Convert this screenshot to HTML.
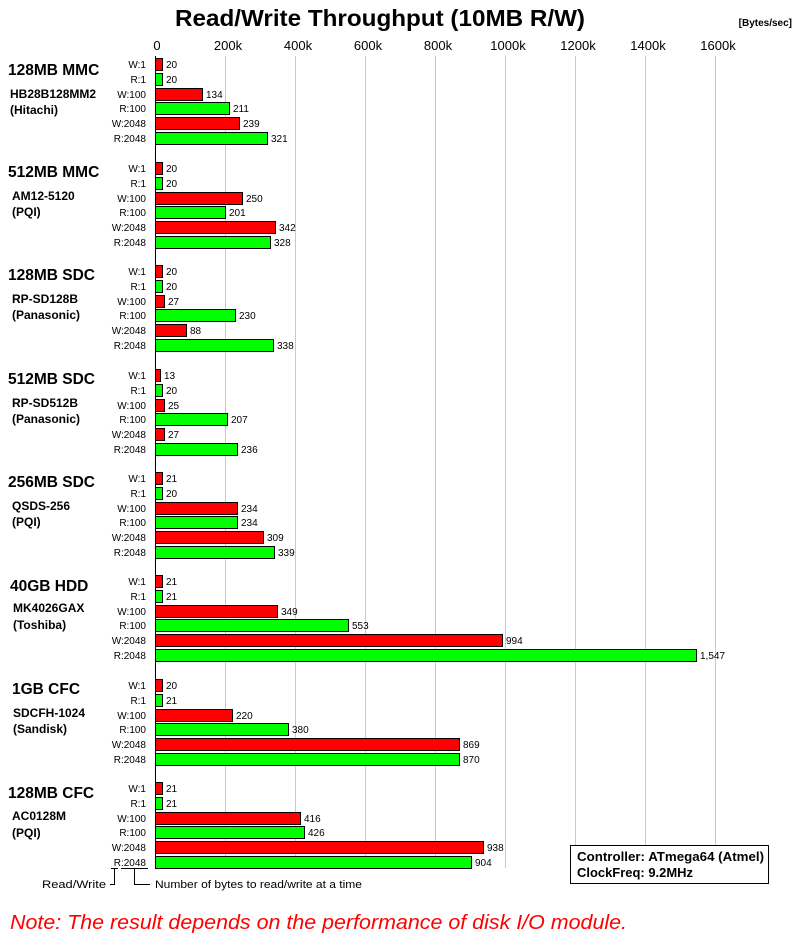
<!DOCTYPE html>
<html><head><meta charset="utf-8"><style>
body{margin:0;background:#fff;}
svg{display:block;font-family:"Liberation Sans",sans-serif;}
.gl{stroke:#c8c8c8;stroke-width:1}
.ax{font-size:13px;fill:#000}
.rl{font-size:10px;text-anchor:end;fill:#000}
.vl{font-size:10px;fill:#000}
.gt{font-size:15.5px;font-weight:bold}
.gs{font-size:12px;font-weight:bold}
.w{fill:#ff0000;stroke:#000;stroke-width:1}
.r{fill:#00ff00;stroke:#000;stroke-width:1}
</style></head><body>
<svg width="800" height="950" viewBox="0 0 800 950" xmlns="http://www.w3.org/2000/svg">
<text x="380" y="26" text-anchor="middle" font-size="23.5" font-weight="bold" textLength="410" lengthAdjust="spacingAndGlyphs">Read/Write Throughput (10MB R/W)</text>
<text x="792" y="26" text-anchor="end" font-size="10" font-weight="bold">[Bytes/sec]</text>
<g class="ax">
<text x="157" y="50" text-anchor="middle">0</text>
<text x="228" y="50" text-anchor="middle">200k</text>
<text x="298" y="50" text-anchor="middle">400k</text>
<text x="368" y="50" text-anchor="middle">600k</text>
<text x="438" y="50" text-anchor="middle">800k</text>
<text x="508" y="50" text-anchor="middle">1000k</text>
<text x="578" y="50" text-anchor="middle">1200k</text>
<text x="648" y="50" text-anchor="middle">1400k</text>
<text x="718" y="50" text-anchor="middle">1600k</text>
</g>
<g class="gl">
<line x1="225.5" y1="56" x2="225.5" y2="868"/><line x1="295.5" y1="56" x2="295.5" y2="868"/>
<line x1="365.5" y1="56" x2="365.5" y2="868"/><line x1="435.5" y1="56" x2="435.5" y2="868"/>
<line x1="505.5" y1="56" x2="505.5" y2="868"/><line x1="575.5" y1="56" x2="575.5" y2="868"/>
<line x1="645.5" y1="56" x2="645.5" y2="868"/><line x1="715.5" y1="56" x2="715.5" y2="868"/>
</g>

<g transform="translate(0,64)">
<text class="gt" x="8" y="11">128MB MMC</text>
<text class="gs" x="10" y="34">HB28B128MM2</text><text class="gs" x="10" y="50">(Hitachi)</text>
<text class="rl" x="146" y="4">W:1</text><text class="rl" x="146" y="19">R:1</text><text class="rl" x="146" y="34">W:100</text><text class="rl" x="146" y="48">R:100</text><text class="rl" x="146" y="63">W:2048</text><text class="rl" x="146" y="78">R:2048</text>
<rect class="w" x="155.5" y="-5.5" width="7" height="12"/><rect class="r" x="155.5" y="9.5" width="7" height="12"/><rect class="w" x="155.5" y="24.5" width="47" height="12"/><rect class="r" x="155.5" y="38.5" width="74" height="12"/><rect class="w" x="155.5" y="53.5" width="84" height="12"/><rect class="r" x="155.5" y="68.5" width="112" height="12"/>
<text class="vl" x="166" y="4">20</text><text class="vl" x="166" y="19">20</text><text class="vl" x="206" y="34">134</text><text class="vl" x="233" y="48">211</text><text class="vl" x="243" y="63">239</text><text class="vl" x="271" y="78">321</text>
</g>

<g transform="translate(0,168)">
<text class="gt" x="8" y="9">512MB MMC</text>
<text class="gs" x="12" y="32">AM12-5120</text><text class="gs" x="12" y="48">(PQI)</text>
<text class="rl" x="146" y="4">W:1</text><text class="rl" x="146" y="19">R:1</text><text class="rl" x="146" y="34">W:100</text><text class="rl" x="146" y="48">R:100</text><text class="rl" x="146" y="63">W:2048</text><text class="rl" x="146" y="78">R:2048</text>
<rect class="w" x="155.5" y="-5.5" width="7" height="12"/><rect class="r" x="155.5" y="9.5" width="7" height="12"/><rect class="w" x="155.5" y="24.5" width="87" height="12"/><rect class="r" x="155.5" y="38.5" width="70" height="12"/><rect class="w" x="155.5" y="53.5" width="120" height="12"/><rect class="r" x="155.5" y="68.5" width="115" height="12"/>
<text class="vl" x="166" y="4">20</text><text class="vl" x="166" y="19">20</text><text class="vl" x="246" y="34">250</text><text class="vl" x="229" y="48">201</text><text class="vl" x="279" y="63">342</text><text class="vl" x="274" y="78">328</text>
</g>

<g transform="translate(0,271)">
<text class="gt" x="8" y="9">128MB SDC</text>
<text class="gs" x="12" y="32">RP-SD128B</text><text class="gs" x="12" y="48">(Panasonic)</text>
<text class="rl" x="146" y="4">W:1</text><text class="rl" x="146" y="19">R:1</text><text class="rl" x="146" y="34">W:100</text><text class="rl" x="146" y="48">R:100</text><text class="rl" x="146" y="63">W:2048</text><text class="rl" x="146" y="78">R:2048</text>
<rect class="w" x="155.5" y="-5.5" width="7" height="12"/><rect class="r" x="155.5" y="9.5" width="7" height="12"/><rect class="w" x="155.5" y="24.5" width="9" height="12"/><rect class="r" x="155.5" y="38.5" width="80" height="12"/><rect class="w" x="155.5" y="53.5" width="31" height="12"/><rect class="r" x="155.5" y="68.5" width="118" height="12"/>
<text class="vl" x="166" y="4">20</text><text class="vl" x="166" y="19">20</text><text class="vl" x="168" y="34">27</text><text class="vl" x="239" y="48">230</text><text class="vl" x="190" y="63">88</text><text class="vl" x="277" y="78">338</text>
</g>

<g transform="translate(0,375)">
<text class="gt" x="8" y="9">512MB SDC</text>
<text class="gs" x="12" y="32">RP-SD512B</text><text class="gs" x="12" y="48">(Panasonic)</text>
<text class="rl" x="146" y="4">W:1</text><text class="rl" x="146" y="19">R:1</text><text class="rl" x="146" y="34">W:100</text><text class="rl" x="146" y="48">R:100</text><text class="rl" x="146" y="63">W:2048</text><text class="rl" x="146" y="78">R:2048</text>
<rect class="w" x="155.5" y="-5.5" width="5" height="12"/><rect class="r" x="155.5" y="9.5" width="7" height="12"/><rect class="w" x="155.5" y="24.5" width="9" height="12"/><rect class="r" x="155.5" y="38.5" width="72" height="12"/><rect class="w" x="155.5" y="53.5" width="9" height="12"/><rect class="r" x="155.5" y="68.5" width="82" height="12"/>
<text class="vl" x="164" y="4">13</text><text class="vl" x="166" y="19">20</text><text class="vl" x="168" y="34">25</text><text class="vl" x="231" y="48">207</text><text class="vl" x="168" y="63">27</text><text class="vl" x="241" y="78">236</text>
</g>

<g transform="translate(0,478)">
<text class="gt" x="8" y="9">256MB SDC</text>
<text class="gs" x="12" y="32">QSDS-256</text><text class="gs" x="12" y="48">(PQI)</text>
<text class="rl" x="146" y="4">W:1</text><text class="rl" x="146" y="19">R:1</text><text class="rl" x="146" y="34">W:100</text><text class="rl" x="146" y="48">R:100</text><text class="rl" x="146" y="63">W:2048</text><text class="rl" x="146" y="78">R:2048</text>
<rect class="w" x="155.5" y="-5.5" width="7" height="12"/><rect class="r" x="155.5" y="9.5" width="7" height="12"/><rect class="w" x="155.5" y="24.5" width="82" height="12"/><rect class="r" x="155.5" y="38.5" width="82" height="12"/><rect class="w" x="155.5" y="53.5" width="108" height="12"/><rect class="r" x="155.5" y="68.5" width="119" height="12"/>
<text class="vl" x="166" y="4">21</text><text class="vl" x="166" y="19">20</text><text class="vl" x="241" y="34">234</text><text class="vl" x="241" y="48">234</text><text class="vl" x="267" y="63">309</text><text class="vl" x="278" y="78">339</text>
</g>

<g transform="translate(0,581)">
<text class="gt" x="10" y="10">40GB HDD</text>
<text class="gs" x="13" y="31">MK4026GAX</text><text class="gs" x="13" y="48">(Toshiba)</text>
<text class="rl" x="146" y="4">W:1</text><text class="rl" x="146" y="19">R:1</text><text class="rl" x="146" y="34">W:100</text><text class="rl" x="146" y="48">R:100</text><text class="rl" x="146" y="63">W:2048</text><text class="rl" x="146" y="78">R:2048</text>
<rect class="w" x="155.5" y="-5.5" width="7" height="12"/><rect class="r" x="155.5" y="9.5" width="7" height="12"/><rect class="w" x="155.5" y="24.5" width="122" height="12"/><rect class="r" x="155.5" y="38.5" width="193" height="12"/><rect class="w" x="155.5" y="53.5" width="347" height="12"/><rect class="r" x="155.5" y="68.5" width="541" height="12"/>
<text class="vl" x="166" y="4">21</text><text class="vl" x="166" y="19">21</text><text class="vl" x="281" y="34">349</text><text class="vl" x="352" y="48">553</text><text class="vl" x="506" y="63">994</text><text class="vl" x="700" y="78">1,547</text>
</g>

<g transform="translate(0,685)">
<text class="gt" x="12" y="9">1GB CFC</text>
<text class="gs" x="13" y="32">SDCFH-1024</text><text class="gs" x="13" y="48">(Sandisk)</text>
<text class="rl" x="146" y="4">W:1</text><text class="rl" x="146" y="19">R:1</text><text class="rl" x="146" y="34">W:100</text><text class="rl" x="146" y="48">R:100</text><text class="rl" x="146" y="63">W:2048</text><text class="rl" x="146" y="78">R:2048</text>
<rect class="w" x="155.5" y="-5.5" width="7" height="12"/><rect class="r" x="155.5" y="9.5" width="7" height="12"/><rect class="w" x="155.5" y="24.5" width="77" height="12"/><rect class="r" x="155.5" y="38.5" width="133" height="12"/><rect class="w" x="155.5" y="53.5" width="304" height="12"/><rect class="r" x="155.5" y="68.5" width="304" height="12"/>
<text class="vl" x="166" y="4">20</text><text class="vl" x="166" y="19">21</text><text class="vl" x="236" y="34">220</text><text class="vl" x="292" y="48">380</text><text class="vl" x="463" y="63">869</text><text class="vl" x="463" y="78">870</text>
</g>

<g transform="translate(0,788)">
<text class="gt" x="8" y="10">128MB CFC</text>
<text class="gs" x="12" y="32">AC0128M</text><text class="gs" x="12" y="49">(PQI)</text>
<text class="rl" x="146" y="4">W:1</text><text class="rl" x="146" y="19">R:1</text><text class="rl" x="146" y="34">W:100</text><text class="rl" x="146" y="48">R:100</text><text class="rl" x="146" y="63">W:2048</text><text class="rl" x="146" y="78">R:2048</text>
<rect class="w" x="155.5" y="-5.5" width="7" height="12"/><rect class="r" x="155.5" y="9.5" width="7" height="12"/><rect class="w" x="155.5" y="24.5" width="145" height="12"/><rect class="r" x="155.5" y="38.5" width="149" height="12"/><rect class="w" x="155.5" y="53.5" width="328" height="12"/><rect class="r" x="155.5" y="68.5" width="316" height="12"/>
<text class="vl" x="166" y="4">21</text><text class="vl" x="166" y="19">21</text><text class="vl" x="304" y="34">416</text><text class="vl" x="308" y="48">426</text><text class="vl" x="487" y="63">938</text><text class="vl" x="475" y="78">904</text>
</g>

<line x1="155.5" y1="56" x2="155.5" y2="868" stroke="#000"/>

<g stroke="#000" fill="none">
<line x1="111" y1="868.5" x2="118" y2="868.5"/>
<polyline points="114.5,869 114.5,884.5 110,884.5"/>
<line x1="121" y1="868.5" x2="148" y2="868.5"/>
<polyline points="134.5,869 134.5,884.5 150,884.5"/>
</g>
<text x="42" y="888" font-size="11" textLength="64" lengthAdjust="spacingAndGlyphs">Read/Write</text>
<text x="155" y="888" font-size="11" textLength="207" lengthAdjust="spacingAndGlyphs">Number of bytes to read/write at a time</text>

<rect x="570.5" y="845.5" width="198" height="38" fill="#fff" stroke="#000"/>
<text x="577" y="861" font-size="12.5" font-weight="bold" textLength="187" lengthAdjust="spacingAndGlyphs">Controller: ATmega64 (Atmel)</text>
<text x="577" y="877" font-size="12.5" font-weight="bold" textLength="116" lengthAdjust="spacingAndGlyphs">ClockFreq: 9.2MHz</text>

<text x="10" y="929" font-size="20" font-style="italic" fill="#ff0000" textLength="617" lengthAdjust="spacingAndGlyphs">Note: The result depends on the performance of disk I/O module.</text>
</svg>
</body></html>
